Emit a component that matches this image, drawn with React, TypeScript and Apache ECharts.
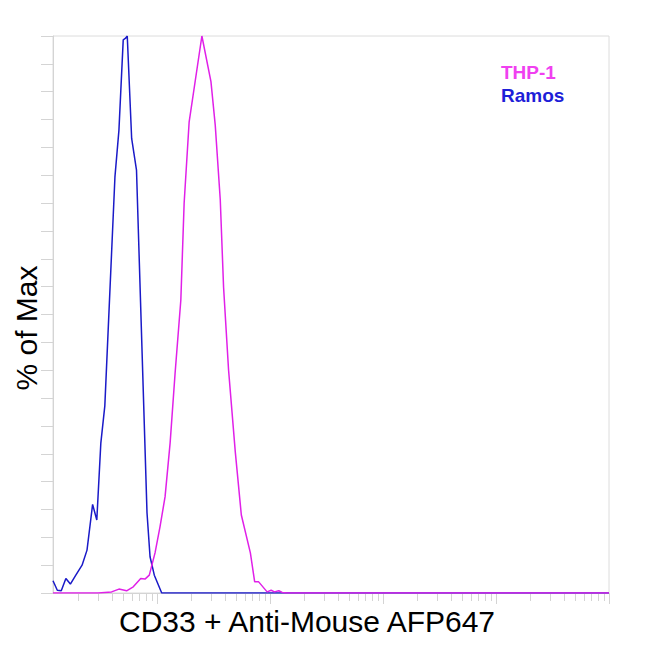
import React from "react";
import * as echarts from "echarts";

// ---------- data (fluorescence intensity, % of max) ----------
const RAMOS_X = [12, 13.1, 14.2, 15.6, 17.1, 19.1, 21.7, 24.0, 26.9, 29.3, 31.8, 34.5, 42.4, 46.0, 50.2, 52.7, 54.5, 59.6, 65.8, 81.5, 86.7, 94.6, 110, 1000000];
const RAMOS_Y = [2.2, 0.5, 0.4, 2.6, 1.6, 3.2, 5.0, 7.7, 15.9, 13.1, 26.9, 33.6, 74.7, 83.1, 99.3, 99.6, 100, 81.6, 75.9, 14.4, 6.5, 3.2, 0, 0];

const THP1_X = [12, 30.1, 39.6, 46.0, 53.8, 61.6, 71.7, 78.2, 85.4, 96.0, 106.3, 117.8, 130.5, 144.5, 162.4, 173.7, 192.4, 249.4, 300.0, 327.4, 362.7, 388.0, 429.7, 492.8, 557.2, 669.9, 731.4, 793.5, 942.5, 1023, 1094, 1195, 1281, 1419, 1000000];
const THP1_Y = [0, 0, 0.2, 0.7, 0.4, 1.1, 2.6, 2.5, 3.2, 7.2, 11.9, 17.3, 26.9, 39.5, 52.6, 70.0, 84.6, 100, 91.8, 84.0, 70.6, 54.9, 40.0, 25.3, 14.0, 7.2, 2.0, 2.0, 0.2, 0.5, 0.2, 0.4, 0.1, 0, 0];

const X_MIN = 12;
const X_MAX = 1000000;
const DECADES = [100, 1000, 10000, 100000, 1000000];
const MINOR_MULTIPLES = [2, 3, 4, 5, 6, 7, 8, 9];
const MINOR_BASES = [10, 100, 1000, 10000, 100000];

const X_TITLE = "CD33 + Anti-Mouse AFP647";
const Y_TITLE = "% of Max";
const LEGEND = [
  { name: "THP-1", color: "#F040F0" },
  { name: "Ramos", color: "#1E1ED8" },
];

const FONT = "'Liberation Sans', Arial, sans-serif";
const AXIS_GREY = "#d4d4d4";

const minorTicks = MINOR_BASES.flatMap(b => MINOR_MULTIPLES.map(m => m * b)).filter(v => v >= X_MIN && v <= X_MAX);
const zip = (xs: number[], ys: number[]) => xs.map((x, i) => [x, ys[i]]);

export default function App() {
  const ref = React.useRef<HTMLDivElement>(null);

  React.useEffect(() => {
    const el = ref.current;
    if (!el) return;
    const chart = echarts.init(el, undefined, { renderer: "svg" });

    const logAxis = {
      type: "log" as const,
      logBase: 10,
      min: X_MIN,
      max: X_MAX,
      position: "bottom" as const,
      axisLabel: { show: false },
      splitLine: { show: false },
    };

    chart.setOption({
      animation: false,
      grid: {
        left: 53, top: 36, right: 41, bottom: 57,
        show: true, borderColor: "#dcdcdc", borderWidth: 1, backgroundColor: "#fff",
      },
      xAxis: [
        {
          ...logAxis,
          axisLine: { show: true, lineStyle: { color: AXIS_GREY } },
          axisTick: { show: true, length: 11, lineStyle: { color: AXIS_GREY }, customValues: DECADES },
        },
        {
          ...logAxis,
          axisLine: { show: false },
          axisTick: { show: true, length: 8, lineStyle: { color: AXIS_GREY }, customValues: minorTicks },
        },
      ],
      yAxis: {
        type: "value",
        min: 0,
        max: 100,
        interval: 5,
        axisLabel: { show: false },
        splitLine: { show: false },
        axisLine: { show: true, lineStyle: { color: AXIS_GREY } },
        axisTick: { show: true, length: 12, lineStyle: { color: AXIS_GREY } },
      },
      series: [
        {
          name: "Ramos", type: "line", xAxisIndex: 0, data: zip(RAMOS_X, RAMOS_Y),
          showSymbol: false, lineStyle: { color: "#1A1AC8", width: 1.5 }, z: 3,
        },
        {
          name: "THP-1", type: "line", xAxisIndex: 0, data: zip(THP1_X, THP1_Y),
          showSymbol: false, lineStyle: { color: "#E020E8", width: 1.5 }, z: 4,
        },
      ],
      graphic: [
        ...LEGEND.map((l, i) => ({
          type: "text", left: 501, top: 63 + i * 23,
          style: { text: l.name, fill: l.color, font: `bold 19px ${FONT}` },
        })),
        {
          type: "text", x: 307, y: 621,
          style: { text: X_TITLE, fill: "#000", font: `30px ${FONT}`, align: "center", verticalAlign: "middle" },
        },
        {
          type: "text", x: 26, y: 328, rotation: Math.PI / 2,
          style: { text: Y_TITLE, fill: "#000", font: `30px ${FONT}`, align: "center", verticalAlign: "middle" },
        },
      ],
    });

    return () => chart.dispose();
  }, []);

  return <div ref={ref} style={{ position: "fixed", left: 0, top: 0, width: 650, height: 650, background: "#fff" }} />;
}
